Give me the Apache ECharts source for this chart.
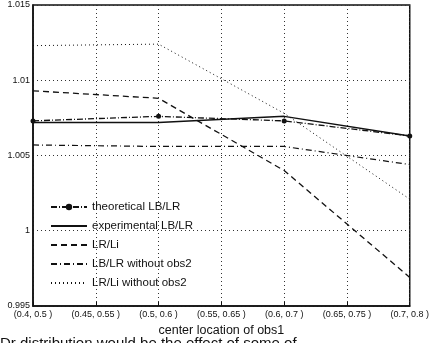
<!DOCTYPE html>
<html>
<head>
<meta charset="utf-8">
<script src="https://cdn.jsdelivr.net/npm/echarts@6/dist/echarts.min.js"></script>
<style>
  html, body { margin: 0; padding: 0; background: #fff; }
  #chart { width: 432px; height: 343px; }
</style>
</head>
<body>
<div id="chart"></div>
<script>
// x categories (obs1 centre intervals)
const categories = ['(0.4, 0.5 )', '(0.45, 0.55 )', '(0.5, 0.6 )', '(0.55, 0.65 )', '(0.6, 0.7 )', '(0.65, 0.75 )', '(0.7, 0.8 )']

// series values, measured only at every other category
const theoreticalLBLR = [1.0073, null, 1.0076, null, 1.0073, null, 1.0063]
const experimentalLBLR = [1.0072, null, 1.0072, null, 1.0076, null, 1.0063]
const lrLi = [1.0093, null, 1.0088, null, 1.0040, null, 0.9969]
const lbLrNoObs2 = [1.0057, null, 1.0056, null, 1.0056, null, 1.0044]
const lrLiNoObs2 = [1.0123, null, 1.0124, null, 1.0078, null, 1.0021]

const seriesNames = ['theoretical LB/LR', 'experimental LB/LR', 'LR/Li', 'LB/LR without obs2', 'LR/Li without obs2']

const myChart = echarts.init(document.getElementById('chart'))

const font = 'Liberation Sans, Arial, sans-serif'

const mkLine = (name, data, type, width, extra) => Object.assign({
  name,
  type: 'line',
  data,
  connectNulls: true,
  symbol: 'none',
  lineStyle: { color: '#111', width, type },
  itemStyle: { color: '#111' },
  emphasis: { disabled: true },
  animation: false
}, extra || {})

const option = {
  backgroundColor: '#fff',
  animation: false,
  grid: {
    left: 33,
    right: 10,
    top: 5,
    bottom: 37,
    show: true,
    borderColor: '#111',
    borderWidth: 1.5
  },
  legend: {
    orient: 'vertical',
    left: 45,
    top: 196,
    itemWidth: 36,
    itemHeight: 8,
    itemGap: 7,
    textStyle: { color: '#111', fontSize: 11.5, fontFamily: font },
    data: seriesNames.map((n, i) => i === 0 ? { name: n } : { name: n, itemStyle: { opacity: 0 } })
  },
  xAxis: {
    type: 'category',
    data: categories,
    boundaryGap: false,
    name: 'center location of obs1',
    nameLocation: 'middle',
    nameGap: 18,
    nameTextStyle: { color: '#111', fontSize: 12.5, fontFamily: font },
    axisLine: { lineStyle: { color: '#111', width: 1.5 } },
    axisTick: { inside: true, length: 4, lineStyle: { color: '#111' } },
    axisLabel: {
      color: '#111',
      fontSize: 9,
      fontFamily: font,
      margin: 4,
      interval: 0
    },
    splitLine: { show: true, lineStyle: { color: '#333', type: [1, 3], width: 1 } }
  },
  yAxis: {
    type: 'value',
    min: 0.995,
    max: 1.015,
    interval: 0.005,
    axisLine: { show: true, lineStyle: { color: '#111', width: 1.5 } },
    axisTick: { inside: true, length: 4, lineStyle: { color: '#111' } },
    axisLabel: {
      color: '#111',
      fontSize: 9,
      fontFamily: font,
      margin: 3,
      formatter: (v) => String(+v.toFixed(3))
    },
    splitLine: { show: true, lineStyle: { color: '#333', type: [1, 3], width: 1 } }
  },
  series: [
    mkLine(seriesNames[0], theoreticalLBLR, [6, 2, 1, 2], 1.3, { symbol: 'circle', symbolSize: 5, showSymbol: true }),
    mkLine(seriesNames[1], experimentalLBLR, 'solid', 1.5),
    mkLine(seriesNames[2], lrLi, [6, 4], 1.3),
    mkLine(seriesNames[3], lbLrNoObs2, [6, 3, 1, 3], 1.2),
    mkLine(seriesNames[4], lrLiNoObs2, [1, 3], 1)
  ],
  graphic: [
    {
      type: 'text',
      left: 0,
      top: 336,
      style: {
        text: 'Dr distribution would be the effect of some of',
        fill: '#111',
        font: '15px Liberation Sans, Arial, sans-serif'
      }
    }
  ]
}

myChart.setOption(option)

window.addEventListener('resize', () => {
  myChart.resize()
})
</script>
</body>
</html>
